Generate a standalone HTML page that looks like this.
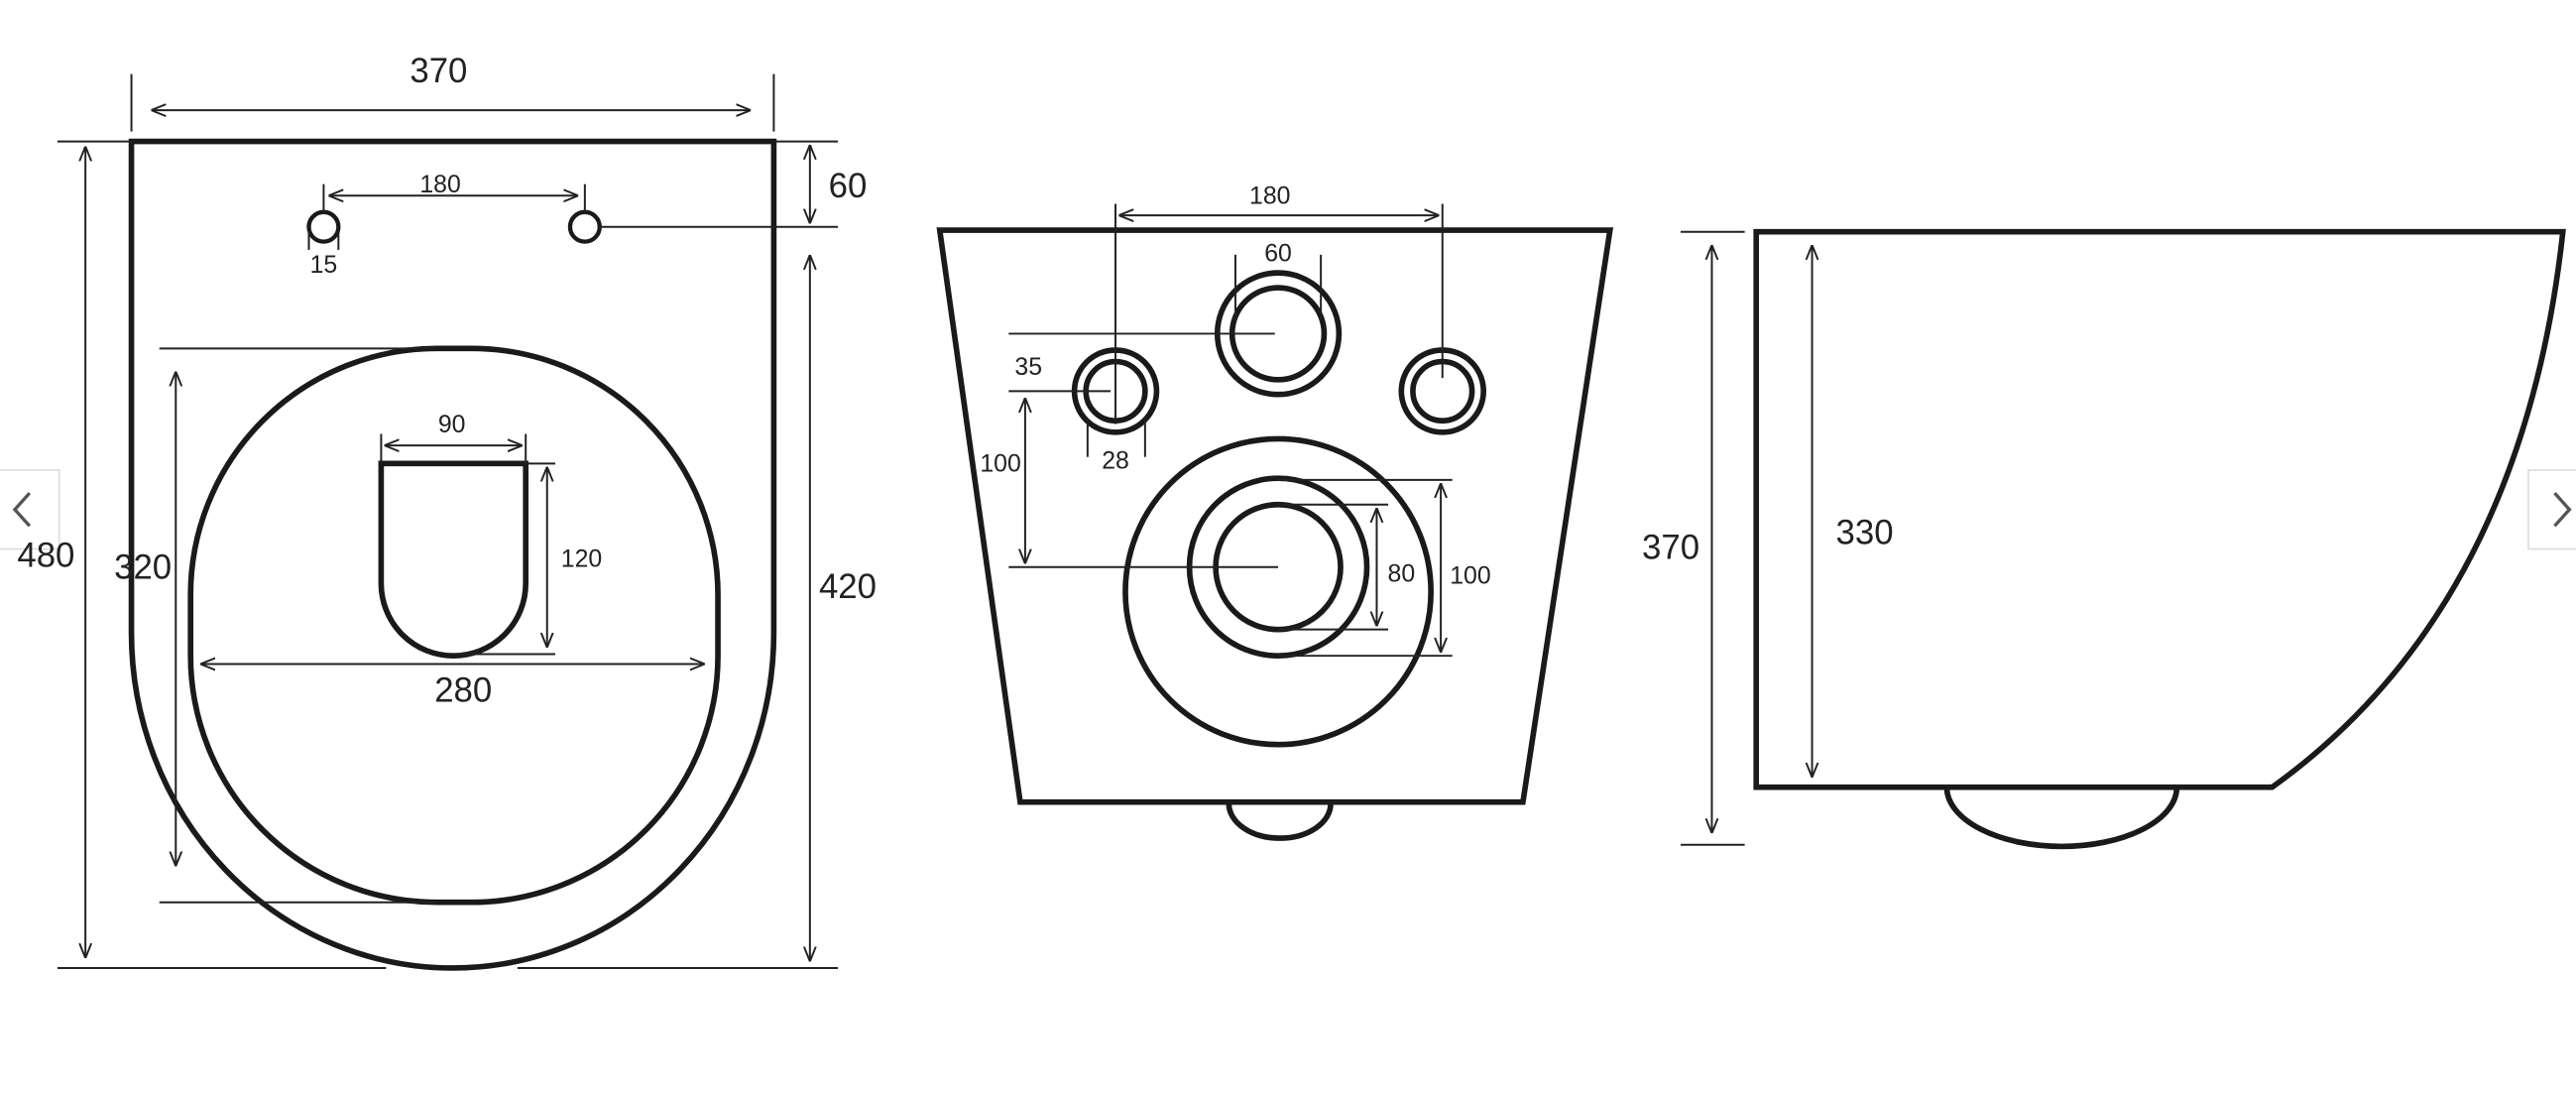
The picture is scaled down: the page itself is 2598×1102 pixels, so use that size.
<!DOCTYPE html>
<html><head><meta charset="utf-8"><style>
html,body{margin:0;padding:0;background:#fff;width:2598px;height:1102px;overflow:hidden}
svg{display:block}
text{font-family:"Liberation Sans","DejaVu Sans",sans-serif;fill:#222;text-anchor:middle}
.m{fill:none;stroke:#1a1a1a;stroke-width:3.4}
.d{fill:none;stroke:#222;stroke-width:1.2}
.L{font-size:21px}
.S{font-size:15px}
</style></head><body>
<svg width="2598" height="1102" viewBox="0 0 1568 665" xmlns="http://www.w3.org/2000/svg">
<defs>
<marker id="a" viewBox="0 0 10 10" refX="10" refY="5" markerWidth="9" markerHeight="9" orient="auto-start-reverse" markerUnits="userSpaceOnUse"><path d="M0,1 L10,5 L0,9" fill="none" stroke="#222" stroke-width="1.3"/></marker>
</defs>
<rect width="1568" height="665" fill="#fff"/>
<!-- nav -->
<rect x="-2" y="286" width="38" height="48" fill="#fff" stroke="#ddd"/>
<path d="M18,300 L9,310 L18,320" fill="none" stroke="#555" stroke-width="2"/>
<rect x="1539" y="286" width="40" height="48" fill="#fff" stroke="#ddd"/>
<path d="M1555,300 L1564,310 L1555,320" fill="none" stroke="#555" stroke-width="2"/>

<!-- LEFT VIEW -->
<path class="m" d="M80,385 V86 H471 V385 A195.5,204 0 0 1 80,385 Z"/>
<rect class="m" x="116" y="212" width="321" height="337" rx="150" ry="150"/>
<path class="m" d="M232,282 H320 V355 A44,44 0 0 1 232,355 Z"/>
<circle class="m" cx="197" cy="138" r="9" style="stroke-width:2.6"/>
<circle class="m" cx="356" cy="138" r="9" style="stroke-width:2.6"/>
<g class="d">
<line x1="80" y1="45" x2="80" y2="80"/><line x1="471" y1="45" x2="471" y2="80"/>
<line x1="92" y1="67" x2="457" y2="67" marker-start="url(#a)" marker-end="url(#a)"/>
<line x1="197" y1="112" x2="197" y2="130"/><line x1="356" y1="112" x2="356" y2="130"/>
<line x1="200" y1="119" x2="352" y2="119" marker-start="url(#a)" marker-end="url(#a)"/>
<line x1="188" y1="140" x2="188" y2="152"/><line x1="206" y1="140" x2="206" y2="152"/>
<line x1="471" y1="86" x2="510" y2="86"/><line x1="365" y1="138" x2="510" y2="138"/>
<line x1="493" y1="88" x2="493" y2="136" marker-start="url(#a)" marker-end="url(#a)"/>
<line x1="35" y1="86" x2="80" y2="86"/><line x1="35" y1="589" x2="235" y2="589"/>
<line x1="52" y1="89" x2="52" y2="583" marker-start="url(#a)" marker-end="url(#a)"/>
<line x1="315" y1="589" x2="510" y2="589"/>
<line x1="493" y1="155" x2="493" y2="585" marker-start="url(#a)" marker-end="url(#a)"/>
<line x1="97" y1="212" x2="265" y2="212"/><line x1="97" y1="549" x2="265" y2="549"/>
<line x1="107" y1="226" x2="107" y2="527" marker-start="url(#a)" marker-end="url(#a)"/>
<line x1="122" y1="404" x2="429" y2="404" marker-start="url(#a)" marker-end="url(#a)"/>
<line x1="232" y1="264" x2="232" y2="282"/><line x1="320" y1="264" x2="320" y2="282"/>
<line x1="234" y1="271" x2="318" y2="271" marker-start="url(#a)" marker-end="url(#a)"/>
<line x1="320" y1="282" x2="338" y2="282"/><line x1="280" y1="398" x2="338" y2="398"/>
<line x1="333" y1="284" x2="333" y2="394" marker-start="url(#a)" marker-end="url(#a)"/>
</g>
<text class="L" x="267" y="50">370</text>
<text class="S" x="268" y="117">180</text>
<text class="S" x="197" y="166">15</text>
<text class="L" x="516" y="120">60</text>
<text class="L" x="28" y="345">480</text>
<text class="L" x="516" y="364">420</text>
<text class="L" x="87" y="352">320</text>
<text class="L" x="282" y="427">280</text>
<text class="S" x="275" y="263">90</text>
<text class="S" x="354" y="345">120</text>

<!-- MIDDLE VIEW -->
<path class="m" d="M572,140 H980 L927,488 H621 Z"/>
<path class="m" d="M748,489 A31,21 0 0 0 810,489"/>
<circle class="m" cx="778" cy="203" r="37"/><circle class="m" cx="778" cy="203" r="28"/>
<circle class="m" cx="679" cy="238" r="25"/><circle class="m" cx="679" cy="238" r="18"/>
<circle class="m" cx="878" cy="238" r="25"/><circle class="m" cx="878" cy="238" r="18"/>
<circle class="m" cx="778" cy="360" r="93"/>
<circle class="m" cx="778" cy="345" r="54"/><circle class="m" cx="778" cy="345" r="38"/>
<g class="d">
<line x1="679" y1="124" x2="679" y2="258"/><line x1="878" y1="124" x2="878" y2="230"/>
<line x1="681" y1="131" x2="876" y2="131" marker-start="url(#a)" marker-end="url(#a)"/>
<line x1="752" y1="155" x2="752" y2="195"/><line x1="804" y1="155" x2="804" y2="195"/>
<line x1="614" y1="203" x2="776" y2="203"/><line x1="614" y1="238" x2="676" y2="238"/>
<line x1="662" y1="255" x2="662" y2="278"/><line x1="697" y1="255" x2="697" y2="278"/>
<line x1="624" y1="242" x2="624" y2="343" marker-start="url(#a)" marker-end="url(#a)"/>
<line x1="614" y1="345" x2="778" y2="345"/>
<line x1="778" y1="307" x2="845" y2="307"/><line x1="778" y1="383" x2="845" y2="383"/>
<line x1="838" y1="309" x2="838" y2="381" marker-start="url(#a)" marker-end="url(#a)"/>
<line x1="778" y1="292" x2="884" y2="292"/><line x1="778" y1="399" x2="884" y2="399"/>
<line x1="877" y1="294" x2="877" y2="397" marker-start="url(#a)" marker-end="url(#a)"/>
</g>
<text class="S" x="773" y="124">180</text>
<text class="S" x="778" y="159">60</text>
<text class="S" x="626" y="228">35</text>
<text class="S" x="679" y="285">28</text>
<text class="S" x="609" y="287">100</text>
<text class="S" x="853" y="354">80</text>
<text class="S" x="895" y="355">100</text>

<!-- RIGHT VIEW -->
<path class="m" d="M1069,141 H1560 Q1535,370 1383,479 H1069 Z"/>
<path class="m" d="M1185,479 A70,36 0 0 0 1325,479"/>
<g class="d">
<line x1="1023" y1="141" x2="1062" y2="141"/><line x1="1023" y1="514" x2="1062" y2="514"/>
<line x1="1042" y1="149" x2="1042" y2="507" marker-start="url(#a)" marker-end="url(#a)"/>
<line x1="1103" y1="149" x2="1103" y2="473" marker-start="url(#a)" marker-end="url(#a)"/>
</g>
<text class="L" x="1017" y="340">370</text>
<text class="L" x="1135" y="331">330</text>
</svg>
</body></html>
